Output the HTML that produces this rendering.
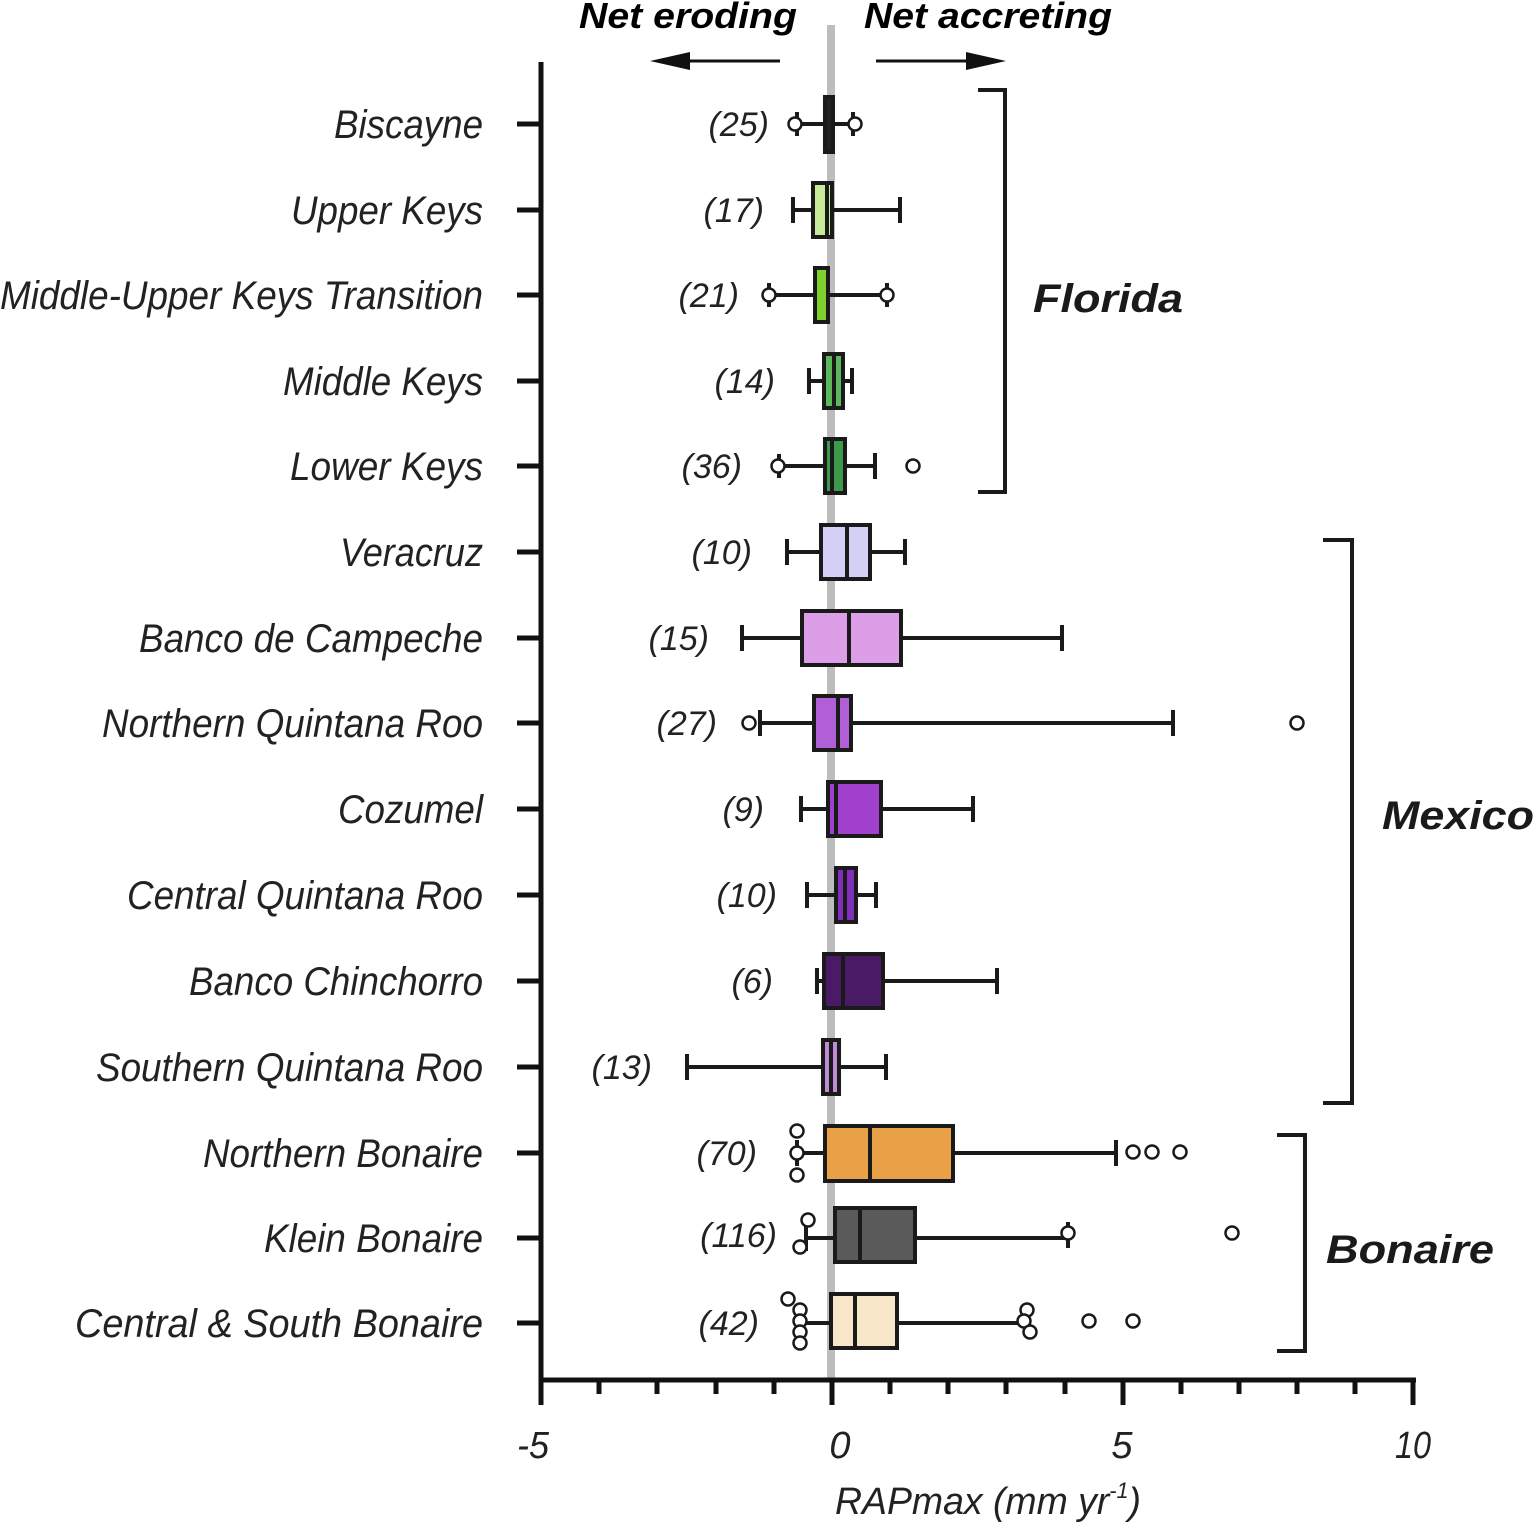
<!DOCTYPE html>
<html><head><meta charset="utf-8"><style>html,body{margin:0;padding:0;background:#fff}svg{display:block}</style></head>
<body>
<svg width="1536" height="1526" viewBox="0 0 1536 1526" xmlns="http://www.w3.org/2000/svg" font-family="Liberation Sans, sans-serif">
<rect width="1536" height="1526" fill="#fff"/>
<!-- zero line -->
<rect x="827" y="25" width="8" height="1355" fill="#bdbdbd"/>
<!-- top labels -->
<text x="797" y="28" text-anchor="end" font-size="36" font-weight="bold" font-style="italic" textLength="218" lengthAdjust="spacingAndGlyphs">Net eroding</text>
<text x="864" y="28" font-size="36" font-weight="bold" font-style="italic" textLength="248" lengthAdjust="spacingAndGlyphs">Net accreting</text>
<g stroke="#111" stroke-width="3" fill="#111">
<line x1="780" y1="61" x2="660" y2="61"/><polygon points="650,61 690,52 690,70" stroke="none"/>
<line x1="876" y1="61" x2="995" y2="61"/><polygon points="1006,61 966,52 966,70" stroke="none"/>
</g>
<!-- axes -->
<g stroke="#111" stroke-linecap="butt">
<line x1="541" y1="62" x2="541" y2="1382" stroke-width="5"/>
<line x1="539" y1="1380" x2="1416" y2="1380" stroke-width="5"/>
<g stroke-width="5">
<line x1="541" y1="1380" x2="541" y2="1405"/><line x1="832" y1="1380" x2="832" y2="1405"/><line x1="1123" y1="1380" x2="1123" y2="1405"/><line x1="1413" y1="1380" x2="1413" y2="1405"/>
<line x1="599" y1="1380" x2="599" y2="1394"/><line x1="657" y1="1380" x2="657" y2="1394"/><line x1="716" y1="1380" x2="716" y2="1394"/><line x1="774" y1="1380" x2="774" y2="1394"/>
<line x1="890" y1="1380" x2="890" y2="1394"/><line x1="948" y1="1380" x2="948" y2="1394"/><line x1="1006" y1="1380" x2="1006" y2="1394"/><line x1="1065" y1="1380" x2="1065" y2="1394"/>
<line x1="1181" y1="1380" x2="1181" y2="1394"/><line x1="1239" y1="1380" x2="1239" y2="1394"/><line x1="1297" y1="1380" x2="1297" y2="1394"/><line x1="1355" y1="1380" x2="1355" y2="1394"/>
</g>
<g stroke-width="5">
<line x1="517" y1="124" x2="541" y2="124"/><line x1="517" y1="210" x2="541" y2="210"/><line x1="517" y1="295" x2="541" y2="295"/><line x1="517" y1="381" x2="541" y2="381"/><line x1="517" y1="466" x2="541" y2="466"/><line x1="517" y1="552" x2="541" y2="552"/><line x1="517" y1="638" x2="541" y2="638"/><line x1="517" y1="723" x2="541" y2="723"/><line x1="517" y1="809" x2="541" y2="809"/><line x1="517" y1="895" x2="541" y2="895"/><line x1="517" y1="981" x2="541" y2="981"/><line x1="517" y1="1067" x2="541" y2="1067"/><line x1="517" y1="1153" x2="541" y2="1153"/><line x1="517" y1="1238" x2="541" y2="1238"/><line x1="517" y1="1323" x2="541" y2="1323"/>
</g>
</g>
<g font-size="38" font-style="italic" fill="#222" text-anchor="middle">
<text x="533" y="1458" textLength="32" lengthAdjust="spacingAndGlyphs">-5</text>
<text x="840" y="1458">0</text>
<text x="1122" y="1458">5</text>
<text x="1413" y="1458" textLength="36" lengthAdjust="spacingAndGlyphs">10</text>
<text x="988" y="1514" textLength="306" lengthAdjust="spacingAndGlyphs">RAPmax (mm yr<tspan font-size="22" dy="-16">-1</tspan><tspan dy="16">)</tspan></text>
</g>
<!-- category labels -->
<g font-size="40" font-style="italic" fill="#222" text-anchor="end">
<text x="483" y="138" textLength="149" lengthAdjust="spacingAndGlyphs">Biscayne</text>
<text x="483" y="224" textLength="192" lengthAdjust="spacingAndGlyphs">Upper Keys</text>
<text x="483" y="309" textLength="483" lengthAdjust="spacingAndGlyphs">Middle-Upper Keys Transition</text>
<text x="483" y="395" textLength="200" lengthAdjust="spacingAndGlyphs">Middle Keys</text>
<text x="483" y="480" textLength="193" lengthAdjust="spacingAndGlyphs">Lower Keys</text>
<text x="483" y="566" textLength="143" lengthAdjust="spacingAndGlyphs">Veracruz</text>
<text x="483" y="652" textLength="344" lengthAdjust="spacingAndGlyphs">Banco de Campeche</text>
<text x="483" y="737" textLength="381" lengthAdjust="spacingAndGlyphs">Northern Quintana Roo</text>
<text x="483" y="823" textLength="145" lengthAdjust="spacingAndGlyphs">Cozumel</text>
<text x="483" y="909" textLength="356" lengthAdjust="spacingAndGlyphs">Central Quintana Roo</text>
<text x="483" y="995" textLength="294" lengthAdjust="spacingAndGlyphs">Banco Chinchorro</text>
<text x="483" y="1081" textLength="387" lengthAdjust="spacingAndGlyphs">Southern Quintana Roo</text>
<text x="483" y="1167" textLength="280" lengthAdjust="spacingAndGlyphs">Northern Bonaire</text>
<text x="483" y="1252" textLength="219" lengthAdjust="spacingAndGlyphs">Klein Bonaire</text>
<text x="483" y="1337" textLength="408" lengthAdjust="spacingAndGlyphs">Central &amp;  South Bonaire</text>
</g>
<!-- counts -->
<g font-size="34" font-style="italic" fill="#222" text-anchor="end">
<text x="769" y="136">(25)</text>
<text x="764" y="222">(17)</text>
<text x="739" y="307">(21)</text>
<text x="775" y="393">(14)</text>
<text x="742" y="478">(36)</text>
<text x="752" y="564">(10)</text>
<text x="709" y="650">(15)</text>
<text x="717" y="735">(27)</text>
<text x="764" y="821">(9)</text>
<text x="777" y="907">(10)</text>
<text x="773" y="993">(6)</text>
<text x="652" y="1079">(13)</text>
<text x="757" y="1165">(70)</text>
<text x="777" y="1247">(116)</text>
<text x="759" y="1335">(42)</text>
</g>
<!-- boxes -->
<g stroke="#1a1a1a" stroke-width="4">
<!-- whiskers -->
<line x1="797" y1="124" x2="853" y2="124"/><line x1="797" y1="112" x2="797" y2="136"/><line x1="853" y1="112" x2="853" y2="136"/>
<line x1="793" y1="210" x2="900" y2="210"/><line x1="793" y1="197" x2="793" y2="223"/><line x1="900" y1="197" x2="900" y2="223"/>
<line x1="769" y1="295" x2="887" y2="295"/><line x1="769" y1="283" x2="769" y2="307"/><line x1="887" y1="283" x2="887" y2="307"/>
<line x1="809" y1="381" x2="852" y2="381"/><line x1="809" y1="368" x2="809" y2="394"/><line x1="852" y1="368" x2="852" y2="394"/>
<line x1="779" y1="466" x2="875" y2="466"/><line x1="779" y1="454" x2="779" y2="478"/><line x1="875" y1="453" x2="875" y2="479"/>
<line x1="787" y1="552" x2="905" y2="552"/><line x1="787" y1="539" x2="787" y2="565"/><line x1="905" y1="539" x2="905" y2="565"/>
<line x1="742" y1="638" x2="1062" y2="638"/><line x1="742" y1="625" x2="742" y2="651"/><line x1="1062" y1="625" x2="1062" y2="651"/>
<line x1="760" y1="723" x2="1173" y2="723"/><line x1="760" y1="710" x2="760" y2="736"/><line x1="1173" y1="710" x2="1173" y2="736"/>
<line x1="801" y1="809" x2="973" y2="809"/><line x1="801" y1="796" x2="801" y2="822"/><line x1="973" y1="796" x2="973" y2="822"/>
<line x1="807" y1="895" x2="876" y2="895"/><line x1="807" y1="882" x2="807" y2="908"/><line x1="876" y1="882" x2="876" y2="908"/>
<line x1="817" y1="981" x2="997" y2="981"/><line x1="817" y1="968" x2="817" y2="994"/><line x1="997" y1="968" x2="997" y2="994"/>
<line x1="687" y1="1067" x2="886" y2="1067"/><line x1="687" y1="1054" x2="687" y2="1080"/><line x1="886" y1="1054" x2="886" y2="1080"/>
<line x1="797" y1="1153" x2="1116" y2="1153"/><line x1="797" y1="1140" x2="797" y2="1166"/><line x1="1116" y1="1140" x2="1116" y2="1166"/>
<line x1="806" y1="1238" x2="1068" y2="1238"/><line x1="806" y1="1225" x2="806" y2="1251"/><line x1="1068" y1="1222" x2="1068" y2="1248"/>
<line x1="800" y1="1323" x2="1028" y2="1323"/><line x1="800" y1="1310" x2="800" y2="1336"/><line x1="1028" y1="1310" x2="1028" y2="1336"/>
<!-- boxes -->
<rect x="825" y="97" width="8" height="55" fill="#222"/>
<rect x="813" y="183" width="19" height="54" fill="#c8eb9a"/><line x1="827" y1="183" x2="827" y2="237"/>
<rect x="815" y="268" width="13" height="54" fill="#7fd02c"/>
<rect x="824" y="354" width="19" height="54" fill="#5cb85c"/><line x1="834" y1="354" x2="834" y2="408"/>
<rect x="825" y="439" width="20" height="54" fill="#3d9a4a"/><line x1="832" y1="439" x2="832" y2="493"/>
<rect x="821" y="525" width="49" height="54" fill="#d4d0f5"/><line x1="847" y1="525" x2="847" y2="579"/>
<rect x="802" y="611" width="99" height="54" fill="#dd9ee8"/><line x1="849" y1="611" x2="849" y2="665"/>
<rect x="814" y="696" width="37" height="54" fill="#b05fd6"/><line x1="838" y1="696" x2="838" y2="750"/>
<rect x="828" y="782" width="53" height="54" fill="#a040cc"/><line x1="836" y1="782" x2="836" y2="836"/>
<rect x="836" y="868" width="20" height="54" fill="#8030b8"/><line x1="845" y1="868" x2="845" y2="922"/>
<rect x="824" y="954" width="59" height="54" fill="#4a1a66"/><line x1="843" y1="954" x2="843" y2="1008"/>
<rect x="823" y="1040" width="16" height="54" fill="#c08ad8"/><line x1="831" y1="1040" x2="831" y2="1094"/>
<rect x="825" y="1126" width="128" height="55" fill="#e8a147"/><line x1="870" y1="1126" x2="870" y2="1181"/>
<rect x="835" y="1208" width="80" height="54" fill="#5a5a5a"/><line x1="860" y1="1208" x2="860" y2="1262"/>
<rect x="831" y="1294" width="66" height="54" fill="#f8e6c8"/><line x1="855" y1="1294" x2="855" y2="1348"/>
</g>
<!-- outliers -->
<g stroke="#1a1a1a" stroke-width="2.5" fill="#fff">
<circle cx="795" cy="124" r="6.5"/><circle cx="855" cy="124" r="6.5"/>
<circle cx="769" cy="295" r="6.5"/><circle cx="887" cy="295" r="6.5"/>
<circle cx="778" cy="466" r="6.5"/><circle cx="913" cy="466" r="6.5"/>
<circle cx="749" cy="723" r="6.5"/><circle cx="1297" cy="723" r="6.5"/>
<circle cx="797" cy="1131" r="6.5"/><circle cx="797" cy="1153" r="6.5"/><circle cx="797" cy="1175" r="6.5"/>
<circle cx="1133" cy="1152" r="6.5"/><circle cx="1152" cy="1152" r="6.5"/><circle cx="1180" cy="1152" r="6.5"/>
<circle cx="808" cy="1220" r="6.5"/><circle cx="800" cy="1247" r="6.5"/><circle cx="1068" cy="1233" r="6.5"/><circle cx="1232" cy="1233" r="6.5"/>
<circle cx="788" cy="1299" r="6.5"/><circle cx="800" cy="1310" r="6.5"/><circle cx="800" cy="1321" r="6.5"/><circle cx="800" cy="1332" r="6.5"/><circle cx="800" cy="1343" r="6.5"/>
<circle cx="1027" cy="1310" r="6.5"/><circle cx="1024" cy="1321" r="6.5"/><circle cx="1030" cy="1332" r="6.5"/>
<circle cx="1089" cy="1321" r="6.5"/><circle cx="1133" cy="1321" r="6.5"/>
</g>
<!-- brackets -->
<g stroke="#1a1a1a" stroke-width="4" fill="none">
<polyline points="978,90 1005,90 1005,492 978,492"/>
<polyline points="1323,540 1352,540 1352,1103 1323,1103"/>
<polyline points="1277,1135 1305,1135 1305,1351 1277,1351"/>
</g>
<g font-size="40" font-weight="bold" font-style="italic" fill="#1a1a1a" text-anchor="middle">
<text x="1108" y="312" textLength="150" lengthAdjust="spacingAndGlyphs">Florida</text>
<text x="1458" y="829" textLength="152" lengthAdjust="spacingAndGlyphs">Mexico</text>
<text x="1410" y="1263" textLength="168" lengthAdjust="spacingAndGlyphs">Bonaire</text>
</g>
</svg>
</body></html>
